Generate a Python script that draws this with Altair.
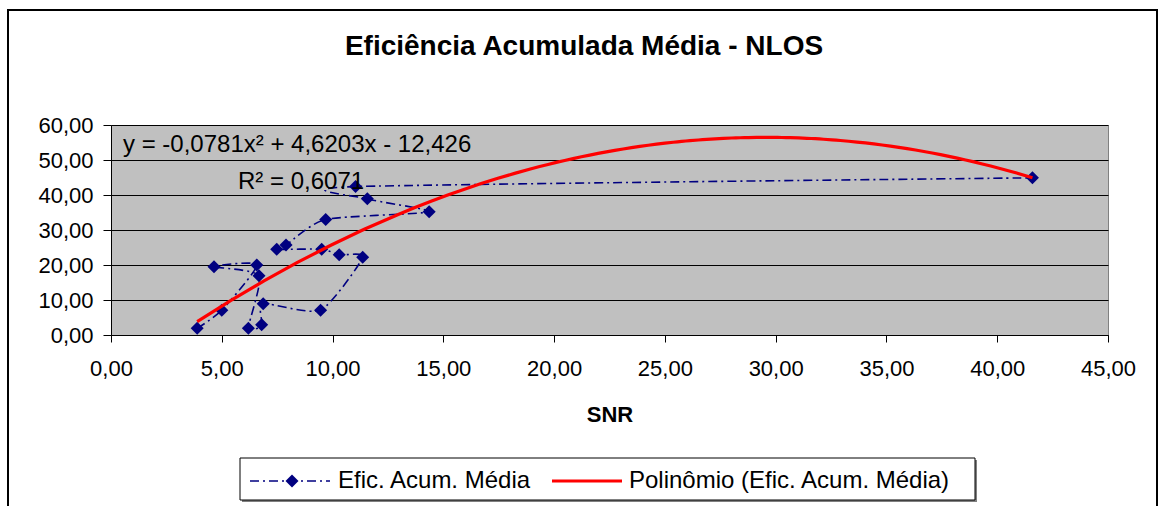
import altair as alt
import pandas as pd

# Data, in series order
snr = [3.89, 5.00, 6.58, 4.65, 6.68, 6.20, 6.80, 6.87, 9.46, 11.36,
       10.30, 9.51, 7.48, 7.90, 9.69, 14.36, 11.57, 11.04, 41.59]
ef = [1.9, 7.1, 20.0, 19.5, 16.9, 1.9, 2.9, 8.9, 7.1, 22.2,
      22.9, 24.5, 24.5, 25.7, 33.0, 35.2, 38.9, 42.4, 44.9]
x_ticks = [0, 5, 10, 15, 20, 25, 30, 35, 40, 45]
y_ticks = [0, 10, 20, 30, 40, 50, 60]

title_text = "Eficiência Acumulada Média - NLOS"
eq_text = "y = -0,0781x² + 4,6203x - 12,426"
r2_text = "R² = 0,6071"
x_title = "SNR"
legend_labels = ["Efic. Acum. Média", "Polinômio (Efic. Acum. Média)"]

df = pd.DataFrame({"snr": snr, "ef": ef, "idx": list(range(len(snr)))})
one = pd.DataFrame({"a": [0]})

FONT = "Liberation Sans"
NAVY = "#000080"
RED = "#FF0000"
W, H = 997, 210

xs = alt.Scale(domain=[0, 45], nice=False, zero=False)
ys = alt.Scale(domain=[0, 60], nice=False, zero=False)
fmt = "replace(format(datum.value, '.2f'), '.', ',')"

x_axis = alt.Axis(values=x_ticks, labelExpr=fmt, title=None, grid=False,
                  tickSize=7, tickColor="black", domainColor="black",
                  labelPadding=16, labelFontSize=22, labelFont=FONT,
                  labelColor="black", labelOverlap=False, labelFlush=False)
y_axis = alt.Axis(values=y_ticks, labelExpr=fmt, title=None, grid=True,
                  gridColor="black", gridWidth=1, tickSize=8,
                  tickColor="black", domainColor="black", labelPadding=10,
                  labelFontSize=22, labelFont=FONT, labelColor="black",
                  labelOverlap=False, labelFlush=False)

X = alt.X("snr:Q", scale=xs, axis=x_axis)
Y = alt.Y("ef:Q", scale=ys, axis=y_axis)

base = alt.Chart(df)

data_line = base.mark_line(color=NAVY, strokeWidth=1.6,
                           strokeDash=[9, 4, 2, 4],
                           interpolate="cardinal", tension=0.35).encode(
    x=X, y=Y, order="idx:Q",
)

pts = base.mark_point(shape="diamond", filled=True, color=NAVY, size=170,
                      opacity=1).encode(x=X, y=Y)

trend = base.transform_regression("snr", "ef", method="poly", order=2).mark_line(
    color=RED, strokeWidth=3.2).encode(x=X, y=Y)

def txt(text, x, y, size=19, bold=False, align="left"):
    return alt.Chart(one).mark_text(
        text=text, font=FONT, fontSize=size,
        fontWeight="bold" if bold else "normal",
        align=align, baseline="middle", color="black").encode(
        x=alt.value(x), y=alt.value(y))

title = txt(title_text, 473, -78, size=28, bold=True, align="center")
eq = txt(eq_text, 12, 20, size=24)
r2 = txt(r2_text, 127, 57, size=24)
xt = txt(x_title, 499, 290, size=22, bold=True, align="center")

# Outer chart border
outer = alt.Chart(one).mark_rect(fill=None, stroke="black", strokeWidth=2).encode(
    x=alt.value(-103), x2=alt.value(1046), y=alt.value(-115), y2=alt.value(420))

# Legend box with shadow
leg_shadow = alt.Chart(one).mark_rect(fill="#808080").encode(
    x=alt.value(131), x2=alt.value(866), y=alt.value(335), y2=alt.value(377))
leg_box = alt.Chart(one).mark_rect(fill="white", stroke="black", strokeWidth=1).encode(
    x=alt.value(129), x2=alt.value(864), y=alt.value(333), y2=alt.value(375))
leg_line1 = alt.Chart(one).mark_rule(color=NAVY, strokeWidth=1.6,
                                     strokeDash=[9, 4, 2, 4]).encode(
    x=alt.value(139), x2=alt.value(219), y=alt.value(356))
leg_pt = alt.Chart(one).mark_point(shape="diamond", filled=True, color=NAVY,
                                   size=170, opacity=1).encode(
    x=alt.value(181), y=alt.value(356))
leg_line2 = alt.Chart(one).mark_rule(color=RED, strokeWidth=3.2).encode(
    x=alt.value(441), x2=alt.value(511), y=alt.value(356))
leg_t1 = txt(legend_labels[0], 227, 356, size=24)
leg_t2 = txt(legend_labels[1], 518, 356, size=24)

chart = alt.layer(
    outer, data_line, pts, trend, title, eq, r2, xt,
    leg_shadow, leg_box, leg_line1, leg_pt, leg_line2, leg_t1, leg_t2,
).properties(
    width=W, height=H,
    autosize=alt.AutoSizeParams(type="none"),
    padding={"left": 111, "top": 125, "right": 51, "bottom": 171},
    background="white",
).configure_view(
    fill="#C0C0C0", stroke="#808080", strokeWidth=1,
)

chart.save("out.html", embed_options={"renderer": "svg", "actions": False})
